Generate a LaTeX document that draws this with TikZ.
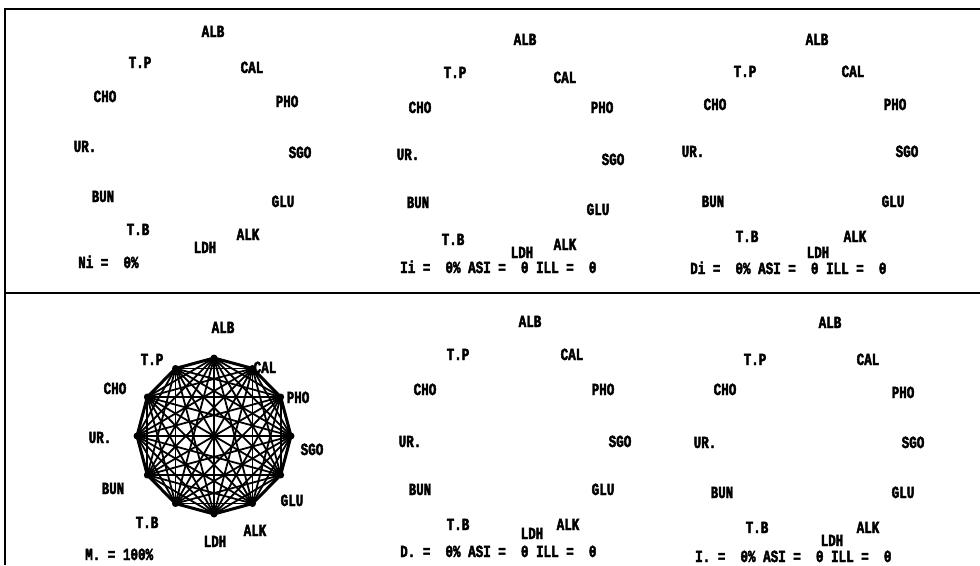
\documentclass[tikz,border=0pt]{standalone}
\usepackage{fontspec}
\newfontfamily\labfont[FakeStretch=0.74,FakeBold=2.6]{Liberation Mono}
\begin{document}
\begin{tikzpicture}[x=1pt,y=-1pt]
\tikzset{
  lab/.style={font=\labfont\bfseries\fontsize{17}{17}\selectfont, inner sep=0pt, text height=10pt, text depth=0pt},
  stat/.style={lab, anchor=west},
  frame/.style={line width=2pt},
  mesh/.style={line width=1.8pt},
  rim/.style={line width=3pt, line join=round}
}
\useasboundingbox (0,0) rectangle (980,565);
% frame
\coordinate (fTL) at (5,9);
\coordinate (fBL) at (5,565);
\coordinate (fTR) at (980,9);
\coordinate (fML) at (5,293);
\coordinate (fMR) at (980,293);
\draw[frame] (fBL) -- (fTL) -- (fTR);
\draw[frame] (fML) -- (fMR);
% labels
\foreach \n/\t/\x/\y in {
 aALB/ALB/213/32, aTP/T.P/140/63, aCAL/CAL/252/68, aCHO/CHO/105/97, aPHO/PHO/287/102, aUR/UR./85/147,
 aSGO/SGO/300/153, aBUN/BUN/103/197, aGLU/GLU/283/202, aTB/T.B/138/230, aALK/ALK/248/235, aLDH/LDH/205/248,
 bALB/ALB/525/40, bTP/T.P/455/73, bCAL/CAL/565/78, bCHO/CHO/420/108, bPHO/PHO/602/108, bUR/UR./408/155,
 bSGO/SGO/613/160, bBUN/BUN/418/203, bGLU/GLU/598/210, bTB/T.B/453/240, bALK/ALK/565/245, bLDH/LDH/522/253,
 cALB/ALB/817/40, cTP/T.P/745/72, cCAL/CAL/853/72, cCHO/CHO/715/105, cPHO/PHO/895/105, cUR/UR./693/152,
 cSGO/SGO/907/152, cBUN/BUN/713/202, cGLU/GLU/893/202, cTB/T.B/747/237, cALK/ALK/855/237, cLDH/LDH/818/253,
 dALB/ALB/223/328, dTP/T.P/152/360, dCAL/CAL/265/368, dCHO/CHO/115/389, dPHO/PHO/298/398, dUR/UR./100/438,
 dSGO/SGO/312/450, dBUN/BUN/113/489, dGLU/GLU/292/501, dTB/T.B/147/523, dALK/ALK/255/531, dLDH/LDH/215/542,
 eALB/ALB/530/322, eTP/T.P/458/355, eCAL/CAL/572/355, eCHO/CHO/425/390, ePHO/PHO/603/390, eUR/UR./410/442,
 eSGO/SGO/620/442, eBUN/BUN/420/490, eGLU/GLU/603/490, eTB/T.B/458/525, eALK/ALK/568/525, eLDH/LDH/532/534,
 fALB/ALB/830/323, fTP/T.P/755/360, fCAL/CAL/868/360, fCHO/CHO/725/390, fPHO/PHO/903/393, fUR/UR./705/443,
 fSGO/SGO/913/443, fBUN/BUN/722/493, fGLU/GLU/903/493, fTB/T.B/757/528, fALK/ALK/868/528, fLDH/LDH/832/541}
 \node[lab] (\n) at (\x,\y) {\t};
% status lines
\node[stat] (aStat) at (78,263) {Ni =~~0\%};
\node[stat] (bStat) at (400,268) {Ii =~~0\% ASI =~~0 ILL =~~0};
\node[stat] (cStat) at (690,269) {Di =~~0\% ASI =~~0 ILL =~~0};
\node[stat] (dStat) at (85,555) {M. = 100\%};
\node[stat] (eStat) at (400,552) {D. =~~0\% ASI =~~0 ILL =~~0};
\node[stat] (fStat) at (695,557) {I. =~~0\% ASI =~~0 ILL =~~0};
% complete mesh
\foreach \i in {0,...,11}
  \coordinate (v\i) at ({214+77*cos(90-30*\i)},{436-78*sin(90-30*\i)});
\foreach \i in {0,...,10}{
  \pgfmathtruncatemacro\nxt{\i+1}
  \foreach \j in {\nxt,...,11}
    \draw[mesh] (v\i) -- (v\j);
}
\draw[rim] (v0) -- (v1) -- (v2) -- (v3) -- (v4) -- (v5) -- (v6) -- (v7) -- (v8) -- (v9) -- (v10) -- (v11) -- cycle;
\foreach \i in {0,...,11}
  \fill (v\i) circle (3.5);
\end{tikzpicture}
\end{document}
